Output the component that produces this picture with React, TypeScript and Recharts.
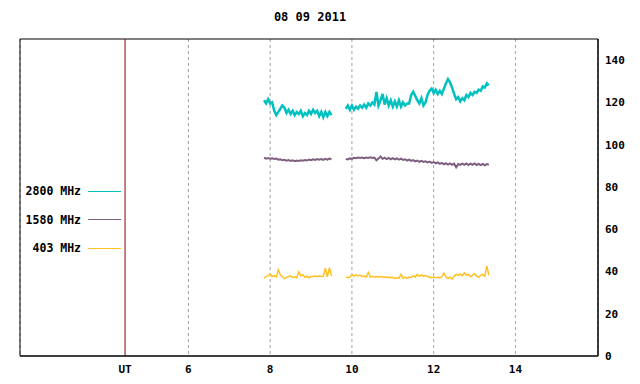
import {
  LineChart,
  Line,
  XAxis,
  YAxis,
  CartesianGrid,
  ReferenceLine,
  ReferenceArea,
} from 'recharts';

const title = '08 09 2011';

// sample times (UT hours), two observing blocks with a gap between them
const seg1Times = [
  7.85, 7.9, 7.95, 8, 8.05, 8.1, 8.15, 8.2, 8.25, 8.3, 8.35, 8.4, 8.45, 8.5, 8.55, 8.6, 8.65,
  8.7, 8.75, 8.8, 8.85, 8.9, 8.95, 9, 9.05, 9.1, 9.15, 9.2, 9.25, 9.3, 9.35, 9.4, 9.45, 9.5,
];
const seg2Times = [
  9.85, 9.9, 9.95, 10, 10.05, 10.1, 10.15, 10.2, 10.25, 10.3,
  10.35, 10.4, 10.45, 10.5, 10.55, 10.6, 10.65, 10.7, 10.75, 10.8,
  10.85, 10.9, 10.95, 11, 11.05, 11.1, 11.15, 11.2, 11.25, 11.3,
  11.35, 11.4, 11.45, 11.5, 11.55, 11.6, 11.65, 11.7, 11.75, 11.8,
  11.85, 11.9, 11.95, 12, 12.05, 12.1, 12.15, 12.2, 12.25, 12.3,
  12.35, 12.4, 12.45, 12.5, 12.55, 12.6, 12.65, 12.7, 12.75, 12.8,
  12.85, 12.9, 12.95, 13, 13.05, 13.1, 13.15, 13.2, 13.25, 13.3,
  13.35,
];
const gapTime = 9.67;

const mhz2800Seg1 = [
  121, 119.5, 121.5, 119.5, 120, 116, 114, 115.5, 117, 118.5, 117.5, 115, 116.5, 114.5, 116, 114, 115.5,
  114.5, 116, 113.5, 115, 114, 116, 114.5, 116.5, 115, 116, 113.5, 115.5, 113, 115.5, 113.5, 115.5, 114,
];
const mhz2800Seg2 = [
  117, 118.5, 116.5, 118.5, 116.5, 118, 117, 118.5, 117.5, 119,
  117.5, 119.5, 118.5, 120, 119, 125, 118.5, 121, 124, 119,
  122, 118.5, 121, 118, 120.5, 118, 121, 118, 120, 118.5,
  119.5, 119.5, 123.5, 125, 123, 121, 119.5, 122, 118.5, 120,
  123.5, 125.5, 126.5, 124.5, 126, 124, 125.5, 124, 126.5, 129,
  131, 129.5, 127, 124, 121.5, 122.5, 120.5, 122, 121, 123.5,
  122.5, 124.5, 123.5, 125, 124.5, 126, 125.5, 127.5, 127, 129,
  128,
];

const mhz1580Seg1 = [
  93.8, 93.4, 93.7, 93.3, 93.5, 93.2, 93.4, 92.9, 93.1, 92.6, 92.8, 92.4, 92.7, 92.3, 92.6, 92.2, 92.5,
  92.3, 92.6, 92.4, 92.7, 92.5, 93.0, 92.7, 93.1, 92.8, 93.2, 92.9, 93.2, 92.8, 93.3, 92.9, 93.4, 93.1,
];
const mhz1580Seg2 = [
  93.2, 93.0, 93.5, 93.3, 93.8, 93.6, 93.9, 93.7, 93.9, 93.6,
  93.9, 93.7, 94.0, 93.7, 93.9, 92.6, 93.4, 94.4, 93.3, 93.8,
  93.2, 93.7, 93.1, 93.6, 93.0, 93.5, 92.9, 93.4, 92.8, 93.1,
  92.5, 92.9, 92.3, 92.7, 92.1, 92.5, 91.9, 92.3, 91.8, 92.1,
  91.6, 92.0, 91.4, 91.8, 91.2, 91.6, 90.9, 91.4, 90.7, 91.2,
  90.6, 91.1, 90.5, 91.0, 89.3, 90.8, 90.4, 91.0, 90.5, 91.1,
  90.4, 91.0, 90.5, 91.1, 90.4, 90.9, 90.3, 90.9, 90.2, 90.8,
  90.5,
];

const mhz403Seg1 = [
  36.8, 37.6, 38.0, 38.6, 37.6, 38.0, 37.4, 40.8, 38.3, 37.6, 36.6, 37.2, 37.6, 37.8, 37.2, 37.5, 37.0,
  39.8, 38.0, 38.5, 37.2, 37.8, 37.0, 37.6, 37.6, 37.8, 37.6, 37.8, 37.6, 37.8, 41.5, 37.4, 41.8, 37.8,
];
const mhz403Seg2 = [
  37.4, 37.0, 37.3, 38.5, 37.8, 38.4, 37.9, 38.3, 37.6, 37.8,
  37.3, 39.6, 37.4, 37.7, 37.3, 37.6, 37.4, 37.6, 37.3, 37.5,
  37.2, 37.4, 37.0, 37.2, 36.7, 37.0, 36.8, 38.6, 36.8, 37.3,
  36.7, 37.4, 37.2, 37.9, 37.4, 38.6, 37.7, 38.4, 37.8, 38.2,
  37.6, 37.3, 37.0, 37.4, 37.0, 37.3, 36.9, 37.6, 39.2, 37.4,
  36.6, 37.3, 36.4, 37.8, 38.6, 38.1, 38.8, 37.9, 39.4, 38.3,
  38.6, 37.5, 38.3, 38.9, 37.8, 37.2, 38.2, 38.6, 37.7, 42.6,
  38.2,
];

const seriesInfo = [
  { key: 'f2800', name: '2800 MHz', color: '#00c0c0', width: 2.5 },
  { key: 'f1580', name: '1580 MHz', color: '#7f5f7f', width: 2 },
  { key: 'f403', name: '403 MHz', color: '#ffc020', width: 1.5 },
];

const hourTicks = [6, 8, 10, 12, 14];
const yTicks = [0, 20, 40, 60, 80, 100, 120, 140];
const utHour = 4.45;
const xMin = 1.88;
const xMax = 16.02;
const yMax = 150;

const rows = [
  ...seg1Times.map((t, i) => ({
    t,
    f2800: mhz2800Seg1[i],
    f1580: mhz1580Seg1[i],
    f403: mhz403Seg1[i],
  })),
  { t: gapTime, f2800: null, f1580: null, f403: null },
  ...seg2Times.map((t, i) => ({
    t,
    f2800: mhz2800Seg2[i],
    f1580: mhz1580Seg2[i],
    f403: mhz403Seg2[i],
  })),
];

const mono = '"DejaVu Sans Mono", "Liberation Mono", monospace';
const tickStyle = { fill: '#000', fontSize: 11, fontFamily: mono, fontWeight: 700 };

export default function App() {
  return (
    <div
      style={{
        position: 'absolute',
        left: 0,
        top: 0,
        width: 640,
        height: 384,
        background: '#fff',
      }}
    >
      <div
        style={{
          position: 'absolute',
          left: 0,
          top: 10,
          width: 620,
          textAlign: 'center',
          fontFamily: mono,
          fontWeight: 700,
          fontSize: 12,
          color: '#000',
        }}
      >
        {title}
      </div>

      <LineChart
        width={640}
        height={384}
        data={rows}
        margin={{ top: 39, right: 0, bottom: 0, left: 20 }}
      >
        <CartesianGrid horizontal={false} strokeDasharray="3 3" stroke="#a0a0a0" />
        <XAxis
          type="number"
          dataKey="t"
          domain={[xMin, xMax]}
          allowDataOverflow
          ticks={hourTicks}
          axisLine={{ stroke: '#000' }}
          tickLine={false}
          tickSize={0}
          tickMargin={9}
          height={28}
          tick={tickStyle}
        />
        <YAxis
          orientation="right"
          domain={[0, yMax]}
          ticks={yTicks}
          allowDataOverflow
          axisLine={{ stroke: '#000' }}
          tickLine={false}
          tickSize={0}
          tickMargin={7}
          width={42}
          tick={tickStyle}
        />
        <ReferenceArea x1={xMin} x2={xMax} y1={0} y2={yMax} fill="none" stroke="#000" />
        <ReferenceLine
          x={utHour}
          stroke="#8b0000"
          label={{ value: 'UT', position: 'bottom', offset: 9, ...tickStyle }}
        />
        {seriesInfo.map((s) => (
          <Line
            key={s.key}
            type="linear"
            dataKey={s.key}
            name={s.name}
            stroke={s.color}
            strokeWidth={s.width}
            dot={false}
            connectNulls={false}
            isAnimationActive={false}
          />
        ))}
      </LineChart>

      {/* legend sits inside the plot frame, left of the UT line */}
      <div style={{ position: 'absolute', left: 20, top: 177, width: 105 }}>
        {seriesInfo.map((s) => (
          <div key={s.key} style={{ display: 'flex', alignItems: 'center', height: 28.5 }}>
            <span
              style={{
                width: 61,
                textAlign: 'right',
                fontFamily: mono,
                fontWeight: 700,
                fontSize: 11.5,
                color: '#000',
                whiteSpace: 'nowrap',
              }}
            >
              {s.name}
            </span>
            <span style={{ width: 33, height: 1, background: s.color, marginLeft: 7 }} />
          </div>
        ))}
      </div>
    </div>
  );
}
